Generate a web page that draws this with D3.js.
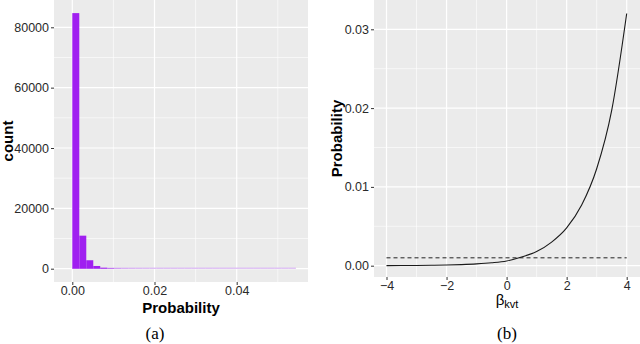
<!DOCTYPE html>
<html lang="en">
<head>
    <meta charset="UTF-8">
    <title>Probability histogram and curve</title>
    <script src="https://d3js.org/d3.v7.min.js"></script>
    <style>
        body { margin: 0; background: #fff; }
        text { font-family: "Liberation Sans", Arial, sans-serif; }
    </style>
</head>
<body>
<script>
    // (a) histogram: bins start at -0.0017, width 0.0017
    const binWidth = 0.0017;
    const binFirst = -0.0017;
    const counts = [0, 84700, 10950, 2800, 900, 320, 150, 70, 40, 28, 20, 15, 12, 10, 8, 7, 6,
                    5, 5, 4, 4, 3, 3, 3, 2, 2, 2, 2, 1, 1, 1, 1, 1];
    const histXTicks = [0, 0.02, 0.04];
    const histXMinor = [0.01, 0.03, 0.05];
    const histYTicks = [0, 20000, 40000, 60000, 80000];
    const histYMinor = [10000, 30000, 50000, 70000];

    // (b) probability curve
    const beta = [-4, -3.5, -3, -2.5, -2, -1.5, -1, -0.5, 0, 0.5, 1, 1.5, 2, 2.5, 3, 3.5, 4];
    const prob = [0.00001, 0.00002, 0.00003, 0.00005, 0.00008, 0.00014, 0.00023, 0.00037, 0.0006,
                  0.0011, 0.0018, 0.003, 0.0048, 0.0077, 0.0123, 0.0197, 0.032];
    const refProb = 0.001;
    const curveXTicks = [-4, -2, 0, 2, 4];
    const curveXMinor = [-3, -1, 1, 3];
    const curveYTicks = [0, 0.01, 0.02, 0.03];
    const curveYMinor = [0.005, 0.015, 0.025];

    const w = 640, h = 344;
    const svg = d3.select("body").append("svg")
        .attr("width", w).attr("height", h);

    function panel(box, x, y, xt, xm, yt, ym, xfmt, yfmt) {
        const g = svg.append("g");
        g.append("rect")
            .attr("x", box.l).attr("y", box.t)
            .attr("width", box.r - box.l).attr("height", box.b - box.t)
            .attr("fill", "#ebebeb");
        g.selectAll(".mx").data(xm).enter().append("line")
            .attr("x1", d => x(d)).attr("x2", d => x(d))
            .attr("y1", box.t).attr("y2", box.b)
            .attr("stroke", "#fff").attr("stroke-width", 0.6);
        g.selectAll(".my").data(ym).enter().append("line")
            .attr("y1", d => y(d)).attr("y2", d => y(d))
            .attr("x1", box.l).attr("x2", box.r)
            .attr("stroke", "#fff").attr("stroke-width", 0.6);
        g.selectAll(".gx").data(xt).enter().append("line")
            .attr("x1", d => x(d)).attr("x2", d => x(d))
            .attr("y1", box.t).attr("y2", box.b)
            .attr("stroke", "#fff").attr("stroke-width", 1.2);
        g.selectAll(".gy").data(yt).enter().append("line")
            .attr("y1", d => y(d)).attr("y2", d => y(d))
            .attr("x1", box.l).attr("x2", box.r)
            .attr("stroke", "#fff").attr("stroke-width", 1.2);

        // axes, ggplot style: short grey ticks, no domain line
        const ax = svg.append("g")
            .attr("transform", `translate(0,${box.b})`)
            .call(d3.axisBottom(x).tickValues(xt).tickFormat(xfmt).tickSize(3).tickPadding(1.5));
        const ay = svg.append("g")
            .attr("transform", `translate(${box.l},0)`)
            .call(d3.axisLeft(y).tickValues(yt).tickFormat(yfmt).tickSize(3).tickPadding(2));
        [ax, ay].forEach(a => {
            a.select(".domain").remove();
            a.selectAll("line").attr("stroke", "#333");
            a.selectAll("text").attr("fill", "#2a2a2a")
                .style("font-size", "12.5px")
                .style("font-family", "Liberation Sans, Arial, sans-serif");
        });
        return g;
    }

    // ---- panel (a)
    const boxA = {l: 54, r: 308, t: 0, b: 282};
    const xA = d3.scaleLinear().domain([0, 0.04]).range([72.3, 236.7]);
    const yA = d3.scaleLinear().domain([0, 80000]).range([268.7, 27.3]);
    const gA = panel(boxA, xA, yA, histXTicks, histXMinor, histYTicks, histYMinor,
        d3.format(".2f"), d3.format("d"));

    const bins = counts.map((c, i) => ({x0: binFirst + i * binWidth, x1: binFirst + (i + 1) * binWidth, n: c}));
    gA.selectAll(".base").data(bins.slice(1)).enter().append("line")
        .attr("x1", d => xA(d.x0)).attr("x2", d => xA(d.x1))
        .attr("y1", yA(0) - 0.5).attr("y2", yA(0) - 0.5)
        .attr("stroke", "#d9b6f3").attr("stroke-width", 1.2);
    gA.selectAll(".bar").data(bins).enter().append("rect")
        .attr("x", d => xA(d.x0))
        .attr("width", d => xA(d.x1) - xA(d.x0))
        .attr("y", d => yA(d.n))
        .attr("height", d => yA(0) - yA(d.n))
        .attr("fill", "#a020f0");

    svg.append("text").attr("x", 181).attr("y", 312.5)
        .attr("text-anchor", "middle").attr("font-weight", "bold")
        .style("font-size", "15px").text("Probability");
    svg.append("text").attr("transform", "translate(12.5,141) rotate(-90)")
        .attr("text-anchor", "middle").attr("font-weight", "bold")
        .style("font-size", "15px").text("count");
    svg.append("text").attr("x", 155).attr("y", 339)
        .attr("text-anchor", "middle")
        .style("font-family", "Liberation Serif, serif").style("font-size", "17px").text("(a)");

    // ---- panel (b)
    const boxB = {l: 374, r: 640, t: 0, b: 277};
    const xB = d3.scaleLinear().domain([-4, 4]).range([386.5, 626.7]);
    const yB = d3.scaleLinear().domain([0, 0.03]).range([265.7, 29.3]);
    const gB = panel(boxB, xB, yB, curveXTicks, curveXMinor, curveYTicks, curveYMinor,
        d => d3.format("d")(d).replace("-", "\u2212"), d3.format(".2f"));

    gB.append("line")
        .attr("x1", xB(-4)).attr("x2", xB(4))
        .attr("y1", yB(refProb)).attr("y2", yB(refProb))
        .attr("stroke", "#222").attr("stroke-width", 1)
        .attr("stroke-dasharray", "4,3");
    const pts = beta.map((b, i) => [b, prob[i]]);
    gB.append("path")
        .datum(pts)
        .attr("fill", "none").attr("stroke", "#1a1a1a").attr("stroke-width", 1.1)
        .attr("d", d3.line().x(d => xB(d[0])).y(d => yB(d[1])).curve(d3.curveMonotoneX));

    const lab = svg.append("text").attr("x", 507).attr("y", 305)
        .attr("text-anchor", "middle").style("font-size", "15px");
    lab.append("tspan").text("β");
    lab.append("tspan").attr("dy", 3).style("font-size", "11px").text("kvt");
    svg.append("text").attr("transform", "translate(342,138.5) rotate(-90)")
        .attr("text-anchor", "middle").attr("font-weight", "bold")
        .style("font-size", "15px").text("Probability");
    svg.append("text").attr("x", 507).attr("y", 339)
        .attr("text-anchor", "middle")
        .style("font-family", "Liberation Serif, serif").style("font-size", "17px").text("(b)");
</script>
</body>
</html>
